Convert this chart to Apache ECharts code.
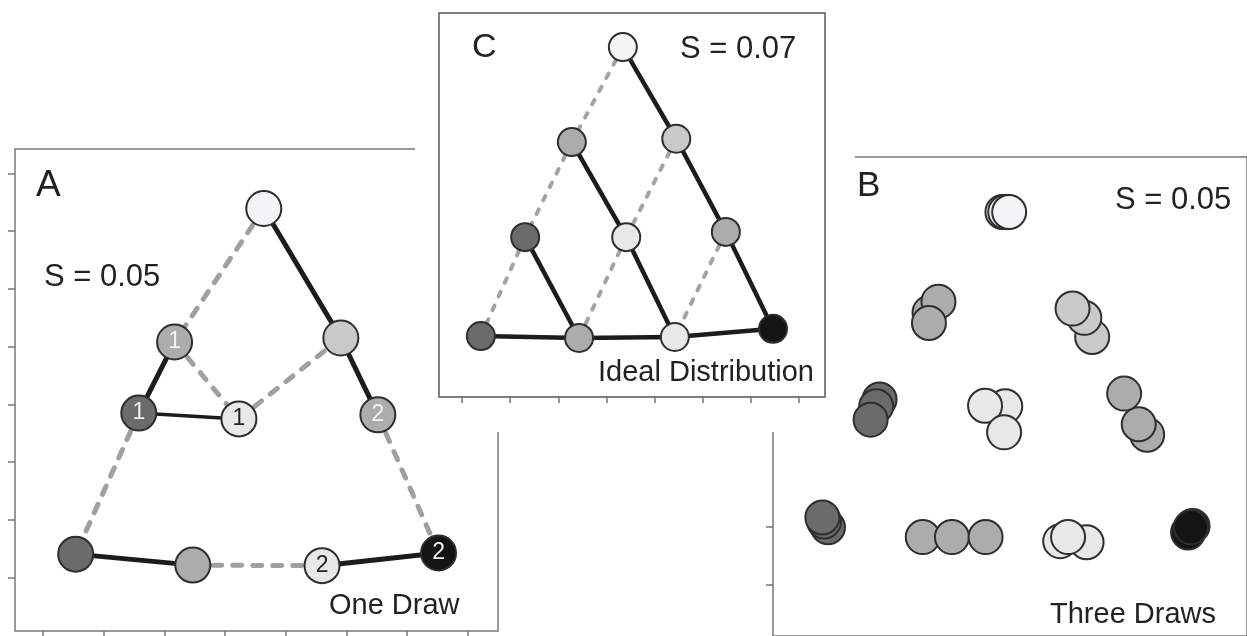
<!DOCTYPE html>
<html><head><meta charset="utf-8">
<script src="https://cdn.jsdelivr.net/npm/echarts@6/dist/echarts.min.js"></script>
<style>html,body{margin:0;padding:0;background:#fff}#chart{width:1247px;height:636px}</style>
</head><body><div id="chart"></div>
<script>
// ---------- DATA ----------
// Panel A: One Draw
const aNodeX = [4.64, 5.91, 3.17, 2.58, 4.23, 6.52, 1.54, 3.47, 5.60, 7.52];
const aNodeY = [7.39, 5.15, 5.08, 3.85, 3.75, 3.82, 1.41, 1.22, 1.21, 1.43];
const aNodeShade = [0, 1, 2, 3, 4, 2, 3, 2, 4, 5];
const aNodeLabel = ['', '', '1', '1', '1', '2', '', '', '2', '2'];
const aSolidEdges = [[0, 1], [1, 5], [2, 3], [6, 7], [8, 9]];
const aThinEdges = [[3, 4]];
const aDashedEdges = [[0, 2], [2, 4], [4, 1], [3, 6], [5, 9], [7, 8]];
const aTicksX = [1, 2, 3, 4, 5, 6, 7, 8];
const aTicksY = [1, 2, 3, 4, 5, 6, 7, 8];

// Panel C: Ideal Distribution
const cNodeX = [4.34, 3.28, 5.45, 2.31, 4.41, 6.48, 1.39, 3.43, 5.42, 7.46];
const cNodeY = [7.29, 5.31, 5.38, 3.33, 3.33, 3.44, 1.27, 1.23, 1.25, 1.42];
const cNodeShade = [0, 2, 1, 3, 4, 2, 3, 2, 4, 5];
const cSolidEdges = [[0, 2], [2, 5], [5, 9], [1, 4], [4, 8], [3, 7], [6, 7], [7, 8], [8, 9]];
const cDashedEdges = [[0, 1], [1, 3], [3, 6], [2, 4], [4, 7], [5, 8]];
const cTicksX = [1, 2, 3, 4, 5, 6, 7, 8];

// Panel B: Three Draws (drawing order: back to front)
const bX = [4.09, 4.14, 4.21,
            2.79, 2.95, 2.78,
            5.69, 5.55, 5.34,
            1.90, 1.84, 1.74,
            4.14, 3.78, 4.12,
            6.67, 6.52, 6.26,
            0.98, 0.91, 0.88,
            2.67, 3.19, 3.79,
            5.12, 5.59, 5.26,
            7.40, 7.48, 7.45];
const bY = [7.45, 7.45, 7.45,
            5.71, 5.90, 5.53,
            5.29, 5.62, 5.78,
            4.21, 4.09, 3.86,
            4.09, 4.10, 3.64,
            3.60, 3.78, 4.31,
            2.00, 2.10, 2.17,
            1.83, 1.83, 1.83,
            1.76, 1.74, 1.83,
            1.91, 2.02, 2.00];
const bShade = [0, 0, 0, 2, 2, 2, 1, 1, 1, 3, 3, 3, 4, 4, 4, 2, 2, 2, 3, 3, 3, 2, 2, 2, 4, 4, 4, 5, 5, 5];
const bTicksY = [1, 2];

// ---------- STYLE ----------
const palette = ['#f3f4f6', '#c9c9c9', '#acacac', '#6b6b6b', '#e7e8e8', '#141414'];
const darkShades = [2, 3, 5];
const FONT = '"Liberation Sans", Arial, sans-serif';
const axisGray = '#777';

function edgeSeries(xs, ys, edges, gi, style, z) {
  return {
    type: 'lines', coordinateSystem: 'cartesian2d', xAxisIndex: gi, yAxisIndex: gi,
    z: z, silent: true, animation: false, polyline: false,
    lineStyle: Object.assign({opacity: 1, curveness: 0}, style),
    data: edges.map(([i, j]) => ({coords: [[xs[i], ys[i]], [xs[j], ys[j]]]}))
  };
}
function nodeSeries(xs, ys, shades, labels, gi, size, z) {
  return {
    type: 'scatter', xAxisIndex: gi, yAxisIndex: gi, z: z, silent: true, animation: false,
    symbol: 'circle', symbolSize: size,
    itemStyle: {borderColor: '#2e2e2e', borderWidth: 2, opacity: 1},
    label: {show: false, position: 'inside', fontSize: 23, fontFamily: FONT},
    data: xs.map((x, i) => ({
      value: [x, ys[i]],
      itemStyle: {color: palette[shades[i]]},
      label: labels && labels[i] ? {show: true, formatter: labels[i],
        color: darkShades.includes(shades[i]) ? '#f2f2f2' : '#222'} : {show: false}
    }))
  };
}
function txt(text, x, y, size, z) {
  return {type: 'text', z: z, silent: true, style: {text: text, x: x, y: y, font: size + 'px ' + FONT,
    fill: '#222', align: 'left', verticalAlign: 'middle', textAlign: 'left', textVerticalAlign: 'middle'}};
}
const tickStyle = {lineStyle: {color: axisGray, width: 1.5}, length: 7};

const chart = echarts.init(document.getElementById('chart'), null, {renderer: 'canvas'});
chart.setOption({
  animation: false,
  backgroundColor: '#fff',
  grid: [
    {left: 15, top: 149, width: 483, height: 482, show: true, borderColor: axisGray, borderWidth: 1.5, z: 0},
    {left: 773, top: 157, width: 490, height: 480, show: true, borderColor: axisGray, borderWidth: 1.5, z: 0},
    {left: 439, top: 13, width: 386, height: 384, show: true, borderColor: '#555', borderWidth: 1.5, z: 11}
  ],
  xAxis: [
    {gridIndex: 0, type: 'value', min: 0.54, max: 8.5, z: 1, axisLine: {show: false},
     axisTick: Object.assign({show: true, customValues: aTicksX}, tickStyle), axisLabel: {show: false}, splitLine: {show: false}},
    {gridIndex: 1, type: 'value', min: 0, max: 8.45, z: 1, axisLine: {show: false},
     axisTick: {show: false}, axisLabel: {show: false}, splitLine: {show: false}},
    {gridIndex: 2, type: 'value', min: 0.52, max: 8.54, z: 11, axisLine: {show: false},
     axisTick: Object.assign({show: true, customValues: cTicksX}, tickStyle, {length: 6}), axisLabel: {show: false}, splitLine: {show: false}}
  ],
  yAxis: [
    {gridIndex: 0, type: 'value', min: 0.08, max: 8.42, z: 1, axisLine: {show: false},
     axisTick: Object.assign({show: true, customValues: aTicksY}, tickStyle), axisLabel: {show: false}, splitLine: {show: false}},
    {gridIndex: 1, type: 'value', min: 0.12, max: 8.40, z: 1, axisLine: {show: false},
     axisTick: Object.assign({show: true, customValues: bTicksY}, tickStyle), axisLabel: {show: false}, splitLine: {show: false}},
    {gridIndex: 2, type: 'value', min: 0, max: 8, z: 11, axisLine: {show: false},
     axisTick: {show: false}, axisLabel: {show: false}, splitLine: {show: false}}
  ],
  graphic: [
    {type: 'rect', z: 10, silent: true, shape: {x: 415, y: 0, width: 440, height: 432}, style: {fill: '#fff'}},
    txt('A', 36, 186, 37, 5),
    txt('S = 0.05', 44, 277, 31, 5),
    txt('One Draw', 329, 606, 29, 5),
    txt('B', 857, 186, 35, 5),
    txt('S = 0.05', 1115, 200, 31, 5),
    txt('Three Draws', 1050, 615, 29, 5),
    txt('C', 472, 48, 34, 30),
    txt('S = 0.07', 680, 49, 31, 30),
    txt('Ideal Distribution', 598, 373, 29, 30)
  ],
  series: [
    edgeSeries(aNodeX, aNodeY, aDashedEdges, 0, {color: '#a0a0a0', width: 5, type: [9, 11], cap: 'round'}, 2),
    edgeSeries(aNodeX, aNodeY, aSolidEdges, 0, {color: '#1c1c1c', width: 5}, 2),
    edgeSeries(aNodeX, aNodeY, aThinEdges, 0, {color: '#1c1c1c', width: 3.5}, 2),
    nodeSeries(aNodeX, aNodeY, aNodeShade, aNodeLabel, 0, 35, 3),
    nodeSeries(bX, bY, bShade, null, 1, 34, 15),
    edgeSeries(cNodeX, cNodeY, cDashedEdges, 2, {color: '#a3a3a3', width: 4, type: [5, 10], cap: 'round'}, 12),
    edgeSeries(cNodeX, cNodeY, cSolidEdges, 2, {color: '#1c1c1c', width: 4.5}, 12),
    nodeSeries(cNodeX, cNodeY, cNodeShade, null, 2, 28, 13)
  ]
});
</script></body></html>
